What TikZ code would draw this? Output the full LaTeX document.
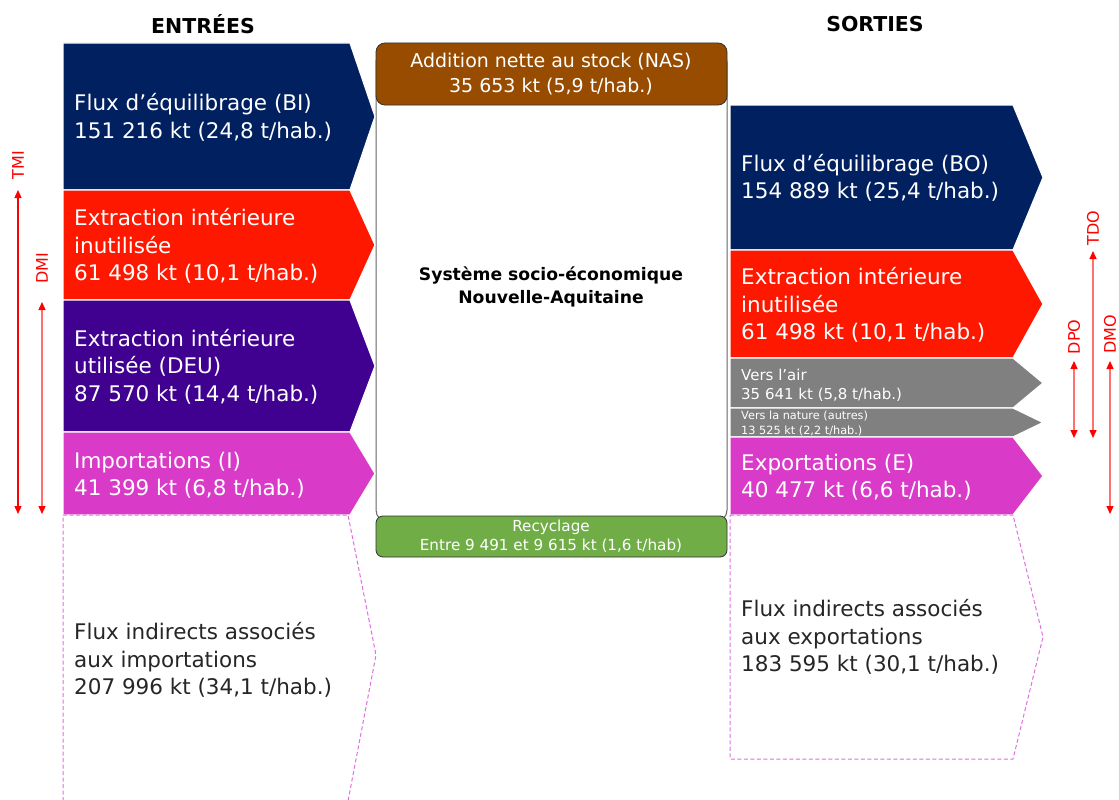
\documentclass[tikz,border=0pt]{standalone}
\usepackage{fontspec}
\setmainfont{DejaVu Sans}
\usetikzlibrary{arrows.meta}
\definecolor{navyc}{HTML}{002060}
\definecolor{redc}{HTML}{FF1800}
\definecolor{purplec}{HTML}{400090}
\definecolor{pinkc}{HTML}{D93BC8}
\definecolor{greyc}{HTML}{808080}
\definecolor{brownc}{HTML}{974C00}
\definecolor{greenc}{HTML}{70AD47}
\definecolor{dashc}{HTML}{E070E0}
\definecolor{indc}{HTML}{FF0000}
\definecolor{indl}{HTML}{FF7070}
\tikzset{
  flow/.style={draw=white,line width=1.2pt},
  indirect/.style={draw=dashc,line width=1pt,dash pattern=on 4pt off 2.5pt},
  lab/.style={anchor=west,inner sep=0pt,align=left,text=white,font=\fontsize{21.5}{27.5}\selectfont},
  labd/.style={lab,text=black!85},
  labs/.style={anchor=west,inner sep=0pt,align=left,text=white,font=\fontsize{15}{19}\selectfont},
  labxs/.style={anchor=west,inner sep=0pt,align=left,text=white,font=\fontsize{11.3}{15}\selectfont},
  head/.style={inner sep=0pt,font=\fontsize{20.5}{24}\selectfont\bfseries},
  ind/.style={{Triangle[length=8pt,width=7pt,color=indc]}-{Triangle[length=8pt,width=7pt,color=indc]},draw=indl,line width=1.3pt},
  indt/.style={inner sep=0pt,text=indc,rotate=90,font=\fontsize{16}{18}\selectfont},
}
\begin{document}
\begin{tikzpicture}[x=1pt,y=-1pt]
\useasboundingbox[fill=white] (0,0) rectangle (1119,800);

% headers
\node[head] (hin) at (203,24) {ENTRÉES};
\node[head] (hout) at (875,24) {SORTIES};

% central system box
\draw[draw=black!60,line width=1pt,rounded corners=12pt,fill=white] (376,50) rectangle (727,522);
\node[inner sep=0pt,align=center,font=\fontsize{17.2}{23}\bfseries] (sys) at (551,287) {Système socio-économique\\Nouvelle-Aquitaine};

% NAS
\draw[fill=brownc,draw=black!80,line width=0.8pt,rounded corners=9pt] (376,43) rectangle (727,105);
\node[inner sep=0pt,align=center,text=white,font=\fontsize{19}{25}\selectfont] (nas) at (551,74) {Addition nette au stock (NAS)\\35 653 kt (5,9 t/hab.)};

% Recycling
\draw[fill=greenc,draw=black!80,line width=0.8pt,rounded corners=7pt] (376,516) rectangle (727,557);
\node[inner sep=0pt,align=center,text=white,font=\fontsize{15.2}{19}\selectfont] (rec) at (551,536) {Recyclage\\Entre 9 491 et 9 615 kt (1,6 t/hab)};

% left inputs
\fill[navyc,flow] (63,43) -- (350,43) -- (375,116.5) -- (350,190) -- (63,190) -- cycle;
\fill[redc,flow] (63,190) -- (350,190) -- (375,245) -- (350,300) -- (63,300) -- cycle;
\fill[purplec,flow] (63,300) -- (350,300) -- (375,366) -- (350,432) -- (63,432) -- cycle;
\fill[pinkc,flow] (63,432) -- (350,432) -- (375,473.5) -- (350,515) -- (63,515) -- cycle;
\draw[indirect] (63,801) -- (63,515) -- (348,515) -- (376,655) -- (348,801);

\node[lab] (bi) at (74,117.5) {Flux d’équilibrage (BI)\\151 216 kt (24,8 t/hab.)};
\node[lab] (eiu) at (74,246) {Extraction intérieure\\inutilisée\\61 498 kt (10,1 t/hab.)};
\node[lab] (deu) at (74,366.5) {Extraction intérieure\\utilisée (DEU)\\87 570 kt (14,4 t/hab.)};
\node[lab] (imp) at (74,475) {Importations (I)\\41 399 kt (6,8 t/hab.)};
\node[labd] (fii) at (74,660) {Flux indirects associés\\aux importations\\207 996 kt (34,1 t/hab.)};

% right outputs
\fill[navyc,flow] (730,105) -- (1013,105) -- (1043,177.5) -- (1013,250) -- (730,250) -- cycle;
\fill[redc,flow] (730,250) -- (1013,250) -- (1043,304) -- (1013,358) -- (730,358) -- cycle;
\fill[greyc,flow] (730,358) -- (1013,358) -- (1043,383) -- (1013,408) -- (730,408) -- cycle;
\fill[greyc,flow] (730,408) -- (1013,408) -- (1043,422.5) -- (1013,437) -- (730,437) -- cycle;
\fill[pinkc,flow] (730,437) -- (1013,437) -- (1043,476) -- (1013,515) -- (730,515) -- cycle;
\draw[indirect] (730,515) -- (1013,515) -- (1043,637) -- (1013,759) -- (730,759) -- cycle;

\node[lab] (bo) at (741,178) {Flux d’équilibrage (BO)\\154 889 kt (25,4 t/hab.)};
\node[lab] (eiuo) at (741,305) {Extraction intérieure\\inutilisée\\61 498 kt (10,1 t/hab.)};
\node[labs] (air) at (741,385.5) {Vers l’air\\35 641 kt (5,8 t/hab.)};
\node[labxs] (nat) at (741,423.5) {Vers la nature (autres)\\13 525 kt (2,2 t/hab.)};
\node[lab] (exp) at (741,477) {Exportations (E)\\40 477 kt (6,6 t/hab.)};
\node[labd] (fie) at (741,637) {Flux indirects associés\\aux exportations\\183 595 kt (30,1 t/hab.)};

% indicators left
\node[indt] (tmi) at (18,165) {TMI};
\coordinate (tmia) at (18,190);
\coordinate (tmib) at (18,514);
\draw[ind,draw=indc] (tmia) -- (tmib);
\node[indt] (dmi) at (42,268) {DMI};
\coordinate (dmia) at (42,302);
\coordinate (dmib) at (42,514);
\draw[ind] (dmia) -- (dmib);

% indicators right
\node[indt] (tdo) at (1093,228) {TDO};
\coordinate (tdoa) at (1093,251);
\coordinate (tdob) at (1093,438);
\draw[ind] (tdoa) -- (tdob);
\node[indt] (dpo) at (1074,337) {DPO};
\coordinate (dpoa) at (1074,361);
\coordinate (dpob) at (1074,438);
\draw[ind] (dpoa) -- (dpob);
\node[indt] (dmo) at (1110,334) {DMO};
\coordinate (dmoa) at (1110,361);
\coordinate (dmob) at (1110,514);
\draw[ind] (dmoa) -- (dmob);
\end{tikzpicture}
\end{document}
